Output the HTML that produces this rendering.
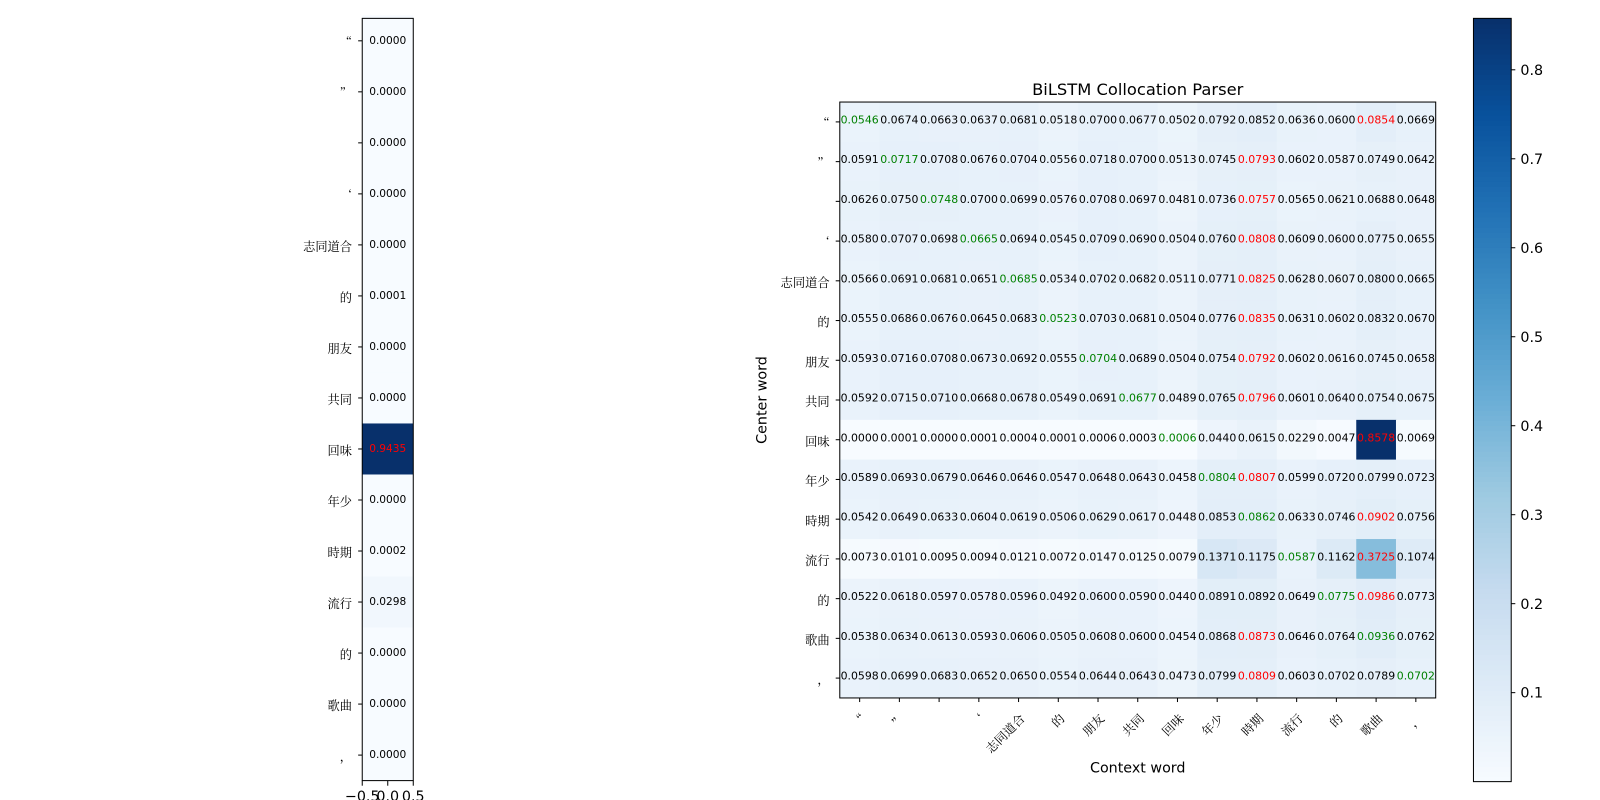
<!DOCTYPE html>
<html><head><meta charset="utf-8">
<style>
html,body{margin:0;padding:0;background:#fff;}
svg{display:block;font-family:"DejaVu Sans","Liberation Sans",sans-serif;}
.cjk{font-family:"Noto Serif CJK SC","Liberation Serif",serif;}
</style></head>
<body>
<svg id="chart" width="1600" height="800" viewBox="0 0 1600 800">
<g transform="scale(1.0204)">
<g id="left"></g>
<g id="right"></g>
<g id="cbar"></g>
</g>
</svg>
<script>
const words = ["“","”","","‘","志同道合","的","朋友","共同","回味","年少","時期","流行","的","歌曲","，"];
const leftValues = [0.0000,0.0000,0.0000,0.0000,0.0000,0.0001,0.0000,0.0000,0.9435,0.0000,0.0002,0.0298,0.0000,0.0000,0.0000];
const row0 = [0.0546,0.0674,0.0663,0.0637,0.0681,0.0518,0.0700,0.0677,0.0502,0.0792,0.0852,0.0636,0.0600,0.0854,0.0669];
const row1 = [0.0591,0.0717,0.0708,0.0676,0.0704,0.0556,0.0718,0.0700,0.0513,0.0745,0.0793,0.0602,0.0587,0.0749,0.0642];
const row2 = [0.0626,0.0750,0.0748,0.0700,0.0699,0.0576,0.0708,0.0697,0.0481,0.0736,0.0757,0.0565,0.0621,0.0688,0.0648];
const row3 = [0.0580,0.0707,0.0698,0.0665,0.0694,0.0545,0.0709,0.0690,0.0504,0.0760,0.0808,0.0609,0.0600,0.0775,0.0655];
const row4 = [0.0566,0.0691,0.0681,0.0651,0.0685,0.0534,0.0702,0.0682,0.0511,0.0771,0.0825,0.0628,0.0607,0.0800,0.0665];
const row5 = [0.0555,0.0686,0.0676,0.0645,0.0683,0.0523,0.0703,0.0681,0.0504,0.0776,0.0835,0.0631,0.0602,0.0832,0.0670];
const row6 = [0.0593,0.0716,0.0708,0.0673,0.0692,0.0555,0.0704,0.0689,0.0504,0.0754,0.0792,0.0602,0.0616,0.0745,0.0658];
const row7 = [0.0592,0.0715,0.0710,0.0668,0.0678,0.0549,0.0691,0.0677,0.0489,0.0765,0.0796,0.0601,0.0640,0.0754,0.0675];
const row8 = [0.0000,0.0001,0.0000,0.0001,0.0004,0.0001,0.0006,0.0003,0.0006,0.0440,0.0615,0.0229,0.0047,0.8578,0.0069];
const row9 = [0.0589,0.0693,0.0679,0.0646,0.0646,0.0547,0.0648,0.0643,0.0458,0.0804,0.0807,0.0599,0.0720,0.0799,0.0723];
const row10 = [0.0542,0.0649,0.0633,0.0604,0.0619,0.0506,0.0629,0.0617,0.0448,0.0853,0.0862,0.0633,0.0746,0.0902,0.0756];
const row11 = [0.0073,0.0101,0.0095,0.0094,0.0121,0.0072,0.0147,0.0125,0.0079,0.1371,0.1175,0.0587,0.1162,0.3725,0.1074];
const row12 = [0.0522,0.0618,0.0597,0.0578,0.0596,0.0492,0.0600,0.0590,0.0440,0.0891,0.0892,0.0649,0.0775,0.0986,0.0773];
const row13 = [0.0538,0.0634,0.0613,0.0593,0.0606,0.0505,0.0608,0.0600,0.0454,0.0868,0.0873,0.0646,0.0764,0.0936,0.0762];
const row14 = [0.0598,0.0699,0.0683,0.0652,0.0650,0.0554,0.0644,0.0643,0.0473,0.0799,0.0809,0.0603,0.0702,0.0789,0.0702];
const matrix = [row0,row1,row2,row3,row4,row5,row6,row7,row8,row9,row10,row11,row12,row13,row14];
const cbarTicks = [0.1,0.2,0.3,0.4,0.5,0.6,0.7,0.8];
const leftXTicks = ["−0.5","0.0","0.5"];

const NS="http://www.w3.org/2000/svg";
function mk(parent,tag,attrs,text){const e=document.createElementNS(NS,tag);for(const k in attrs)e.setAttribute(k,attrs[k]);if(text!==undefined)e.textContent=text;parent.appendChild(e);return e;}
const stops=[[247,251,255],[222,235,247],[198,219,239],[158,202,225],[107,174,214],[66,146,198],[33,113,181],[8,81,156],[8,48,107]];
function blues(t){t=Math.max(0,Math.min(1,t));const p=t*8,i=Math.min(7,Math.floor(p)),f=p-i;const a=stops[i],b=stops[i+1];return `rgb(${a.map((v,k)=>Math.round(v+(b[k]-v)*f)).join(",")})`;}
const NF=10.7;

// LEFT
const L=document.getElementById('left');
const lx0=355,lx1=405,ly0=15,ly1=765,n=words.length,lh=(ly1-ly0)/n;
const lmax=Math.max(...leftValues);
const lArg=leftValues.indexOf(lmax);
const lY=i=>ly0+i*lh;
leftValues.forEach((v,i)=>{
  const r=mk(L,'rect',{x:lx0,y:lY(i),width:lx1-lx0,height:lh+0.5,fill:blues(v/lmax)});
  
  
  const t=mk(L,'text',{x:(lx0+lx1)/2,y:lY(i)+lh/2+3,'text-anchor':'middle','font-size':10.4,fill:i===lArg?'red':'#000'},v.toFixed(4));
  
  
  mk(L,'line',{x1:lx0-4,x2:lx0,y1:lY(i)+lh/2,y2:lY(i)+lh/2,stroke:'#000'});
  const w=mk(L,'text',{x:lx0-10,y:lY(i)+lh/2+6,'text-anchor':'end','font-size':12,class:'cjk'},words[i]);
  
  
});
mk(L,'rect',{x:lx0,y:ly0+3,width:lx1-lx0,height:ly1-ly0-3,fill:'none',stroke:'#000'});
leftXTicks.forEach((s,i)=>{const x=lx0+i*(lx1-lx0)/2;mk(L,'line',{x1:x,x2:x,y1:ly1,y2:ly1+5,stroke:'#000'});
  const t=mk(L,'text',{x:x,y:ly1+20,'text-anchor':'middle','font-size':14},s);
  
  });

// RIGHT
const R=document.getElementById('right');
const rx0=823,rx1=1407,ry0=100,ry1=684,cw=(rx1-rx0)/n,ch=(ry1-ry0)/n;
const vmax=Math.max(...matrix.flat());
const X=j=>rx0+j*cw, Y=i=>ry0+i*ch;
matrix.forEach((row,i)=>{
  let best=-1,bv=-1;row.forEach((v,j)=>{if(j!==i&&v>bv){bv=v;best=j;}});
  row.forEach((v,j)=>{
    const r=mk(R,'rect',{x:X(j),y:Y(i),width:cw+0.5,height:ch+0.5,fill:blues(v/vmax)});
    
    
    const col=j===i?'green':(j===best?'red':'#000');
    const t=mk(R,'text',{x:X(j)+cw/2,y:Y(i)+ch/2+1.5,'text-anchor':'middle','font-size':NF,fill:col},v.toFixed(4));
    
    
  });
  mk(R,'line',{x1:rx0-4,x2:rx0,y1:Y(i)+ch/2,y2:Y(i)+ch/2,stroke:'#000'});
  const w=mk(R,'text',{x:rx0-10,y:Y(i)+ch/2+6,'text-anchor':'end','font-size':12,class:'cjk'},words[i]);
  
  
});
words.forEach((s,j)=>{const x=X(j)+cw/2;mk(R,'line',{x1:x,x2:x,y1:ry1,y2:ry1+4,stroke:'#000'});
  const t=mk(R,'text',{x:x+7,y:ry1+21,'text-anchor':'end','font-size':12,class:'cjk',transform:`rotate(-45 ${x+7} ${ry1+21})`},s);
  
  });
mk(R,'rect',{x:rx0,y:ry0,width:rx1-rx0,height:ry1-ry0,fill:'none',stroke:'#000'});
const ti=mk(R,'text',{x:(rx0+rx1)/2,y:93,'text-anchor':'middle','font-size':16},'BiLSTM Collocation Parser');

const xl=mk(R,'text',{x:(rx0+rx1)/2,y:757,'text-anchor':'middle','font-size':14},'Context word');

const yl=mk(R,'text',{x:751,y:392,'text-anchor':'middle','font-size':14,transform:'rotate(-90 751 392)'},'Center word');


// COLORBAR
const C=document.getElementById('cbar');
const cx0=1444,cx1=1481,cy0=18,cy1=766;
const cY=v=>cy1-(v/vmax)*(cy1-cy0);
for(let k=0;k<150;k++){const a=k/150,b=(k+1)/150;mk(C,'rect',{x:cx0,y:cy1-b*(cy1-cy0),width:cx1-cx0,height:(cy1-cy0)/150+0.6,fill:blues(a+0.5/150)});}
mk(C,'rect',{x:cx0,y:cy0,width:cx1-cx0,height:cy1-cy0,fill:'none',stroke:'#000'});
cbarTicks.forEach(v=>{const y=cY(v);mk(C,'line',{x1:cx1,x2:cx1+4,y1:y,y2:y,stroke:'#000'});
  const t=mk(C,'text',{x:cx1+9,y:y+5,'font-size':14},v.toFixed(1));
  });
</script>
</body></html>
